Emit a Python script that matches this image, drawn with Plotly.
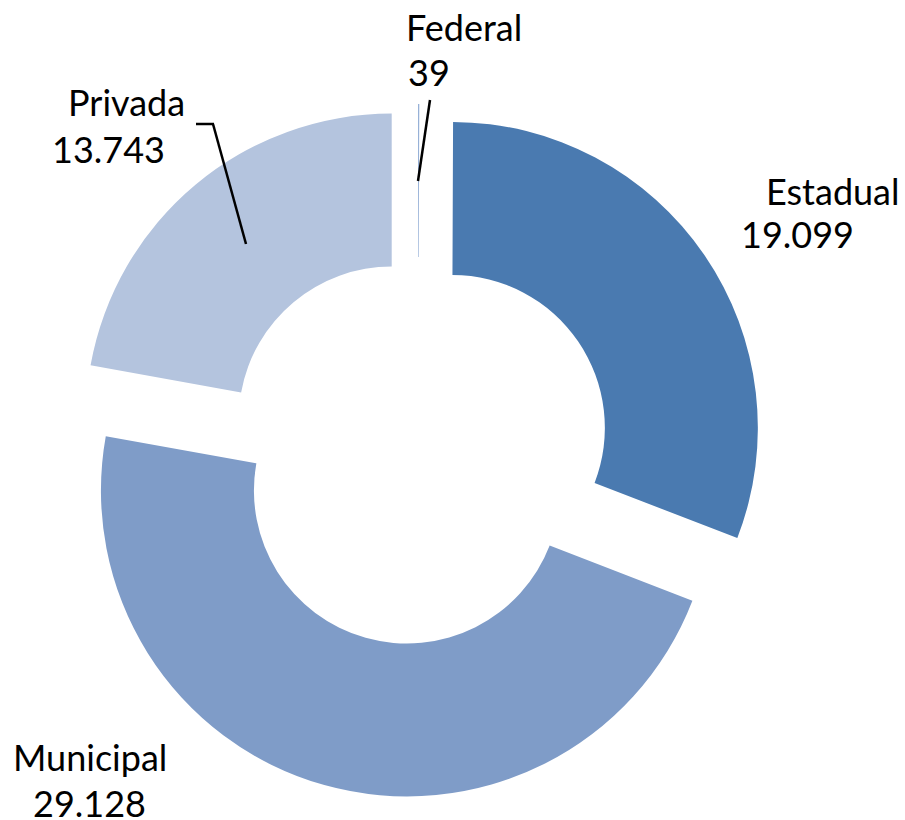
import plotly.graph_objects as go

categories = ["Federal", "Estadual", "Municipal", "Privada"]
values = [39, 19099, 29128, 13743]
value_labels = ["39", "19.099", "29.128", "13.743"]
colors = ["#8fabd4", "#4a7ab0", "#7f9cc8", "#b4c4de"]

W, H = 905, 820
ML, MR, MT, MB = 71, 140, 104, 22
PW = W - ML - MR
PH = H - MT - MB


def px(x):
    return (x - ML) / PW


def py(y):
    return (H - MB - y) / PH


fig = go.Figure(go.Pie(
    labels=categories,
    values=values,
    sort=False,
    direction="clockwise",
    rotation=0,
    hole=0.50,
    pull=[0.134] * 4,
    marker=dict(colors=colors, line=dict(width=0)),
    textinfo="none",
    hoverinfo="label+value",
    showlegend=False,
))

# label positions (pixel centers): name line and value line
label_pos = {
    "Federal": ((464, 27), (429, 72)),
    "Estadual": ((833, 191), (797, 234)),
    "Municipal": ((90, 757), (89, 803)),
    "Privada": ((126, 102), (108, 149)),
}

font = dict(family="Lato", size=36, color="#000000")
annotations = []
for cat, val in zip(categories, value_labels):
    (nx, ny), (vx, vy) = label_pos[cat]
    annotations.append(dict(x=px(nx), y=py(ny), xref="paper", yref="paper",
                            text=cat, showarrow=False, font=font,
                            xanchor="center", yanchor="middle"))
    annotations.append(dict(x=px(vx), y=py(vy), xref="paper", yref="paper",
                            text=val, showarrow=False, font=font,
                            xanchor="center", yanchor="middle"))

line_style = dict(color="#000000", width=2.5)
shapes = [
    dict(type="line", xref="paper", yref="paper",
         x0=px(430), y0=py(100), x1=px(418), y1=py(181), line=line_style),
    dict(type="line", xref="paper", yref="paper",
         x0=px(196), y0=py(124), x1=px(214), y1=py(124), line=line_style),
    dict(type="line", xref="paper", yref="paper",
         x0=px(213), y0=py(124), x1=px(246), y1=py(244), line=line_style),
]

fig.update_layout(
    width=W, height=H,
    margin=dict(l=ML, r=MR, t=MT, b=MB),
    paper_bgcolor="#ffffff",
    plot_bgcolor="#ffffff",
    annotations=annotations,
    shapes=shapes,
)

fig.write_html(
    "out.html",
    config={"displayModeBar": False},
    post_script="document.body.style.margin='0px';document.body.style.overflow='hidden';",
)
